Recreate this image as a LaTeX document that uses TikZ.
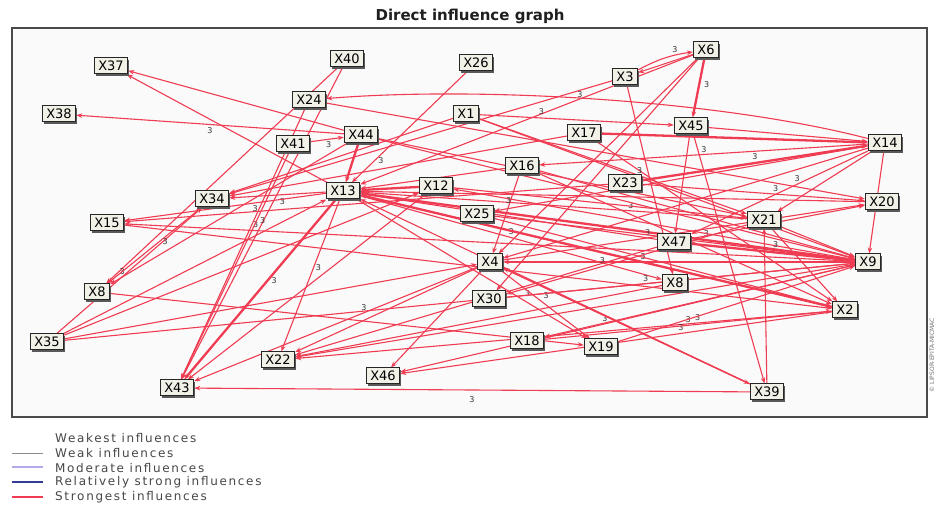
\documentclass[tikz,border=0pt]{standalone}
\usepackage{fontspec}
\usetikzlibrary{arrows.meta,shadows}
\newfontfamily\dvs{DejaVu Sans}
\newfontfamily\legfont{DejaVu Sans}[LetterSpace=14]
\definecolor{edgered}{HTML}{F03C52}
\definecolor{boxfill}{HTML}{F1F1E8}
\definecolor{framec}{HTML}{4A4A4A}
\definecolor{modc}{HTML}{B4AAEB}
\definecolor{strc}{HTML}{323C96}
\pgfdeclarelayer{back}
\pgfdeclarelayer{edges}
\pgfsetlayers{back,edges,main}
\begin{document}
\begin{tikzpicture}[x=1pt,y=-1pt,
  vn/.style={draw=black!85, line width=1pt, fill=boxfill, font=\dvs\fontsize{13}{13}\selectfont,
    inner xsep=4pt, inner ysep=2pt, minimum height=16pt,
    drop shadow={shadow xshift=1.6pt, shadow yshift=-1.6pt, fill=black!65, opacity=1}},
  ed/.style={draw=edgered, line width=1.1pt, -{Stealth[length=6pt,width=4.5pt]}},
  thk/.style={line width=2.3pt},
  lbl/.style={font=\dvs\fontsize{8}{8}\selectfont, text=black!80, inner sep=1pt},
  legtext/.style={font=\legfont\fontsize{12}{12}\selectfont, text=black!72, anchor=west, inner sep=0pt}]
\useasboundingbox (0,0) rectangle (937,510);
\begin{pgfonlayer}{back}
\fill[white] (0,0) rectangle (937,510);
\draw[framec, line width=1.6pt, fill=black!2] (12,28) rectangle (927,417);
\end{pgfonlayer}
\node[font=\dvs\bfseries\fontsize{15}{15}\selectfont, text=black!88] (title) at (470,16) {Direct influence graph};
% nodes
\node[vn] (X37) at (111,66) {X37};
\node[vn] (X40) at (347,59) {X40};
\node[vn] (X26) at (476,63) {X26};
\node[vn] (X6) at (706,50) {X6};
\node[vn] (X3) at (625,77) {X3};
\node[vn] (X24) at (309,100) {X24};
\node[vn] (X38) at (59,114) {X38};
\node[vn] (X1) at (466,114) {X1};
\node[vn] (X44) at (361,135) {X44};
\node[vn] (X41) at (293,144) {X41};
\node[vn] (X17) at (584,133) {X17};
\node[vn] (X45) at (691,126) {X45};
\node[vn] (X14) at (885,143) {X14};
\node[vn] (X16) at (522,166) {X16};
\node[vn] (X12) at (436,186) {X12};
\node[vn] (X13) at (343,191) {X13};
\node[vn] (X34) at (212,199) {X34};
\node[vn] (X23) at (625,183) {X23};
\node[vn] (X25) at (477,214) {X25};
\node[vn] (X20) at (882,202) {X20};
\node[vn] (X15) at (107,223) {X15};
\node[vn] (X21) at (764,220) {X21};
\node[vn] (X47) at (674,242) {X47};
\node[vn] (X9) at (868,262) {X9};
\node[vn] (X4) at (490,262) {X4};
\node[vn] (X8c) at (675,283) {X8};
\node[vn] (X30) at (489,299) {X30};
\node[vn] (X2) at (845,310) {X2};
\node[vn] (X8L) at (97,292) {X8};
\node[vn] (X35) at (47,342) {X35};
\node[vn] (X18) at (527,341) {X18};
\node[vn] (X19) at (601,347) {X19};
\node[vn] (X22) at (278,360) {X22};
\node[vn] (X46) at (383,376) {X46};
\node[vn] (X43) at (177,388) {X43};
\node[vn] (X39) at (767,392) {X39};
% edges
\begin{pgfonlayer}{edges}
\draw[ed] (X14) .. controls (720,100) and (480,86) .. (X24);
\draw[ed] (X24) -- (X20);
\draw[ed] (X40) -- (X8L);
\draw[ed] (X40) -- (X43);
\draw[ed] (X44) -- (X37);
\draw[ed] (X13) -- (X37);
\draw[ed] (X44) -- node[lbl,pos=0.5,below=2pt]{3} (X38);
\draw[ed] (X26) -- node[lbl,pos=0.8,right=2pt]{3} (X13);
\draw[ed] (X6) -- (X3);
\draw[ed] (X3) to[bend left=10] node[lbl,pos=0.7,above=1pt]{3} (X6);
\draw[ed,thk] (X6) -- node[lbl,pos=0.45,right=3pt]{3} (X45);
\draw[ed] (X6) -- (X13);
\draw[ed] (X6) -- (X4);
\draw[ed] (X6) -- (X30);
\draw[ed] (X3) -- node[lbl,pos=0.07,below left=1pt]{3} (X34);
\draw[ed] (X3) -- (X8c);
\draw[ed] (X45) -- (X14);
\draw[ed] (X45) -- node[lbl,pos=0.06,right=2pt]{3} (X39);
\draw[ed] (X45) -- (X47);
\draw[ed] (X1) -- node[lbl,pos=0.32,above=2pt]{3} (X45);
\draw[ed] (X1) -- (X9);
\draw[ed] (X1) -- (X34);
\draw[ed,thk] (X17) -- (X14);
\draw[ed,thk] (X23) -- node[lbl,pos=0.5,above=1pt]{3} (X14);
\draw[ed] (X14) -- (X25);
\draw[ed] (X14) -- node[lbl,pos=0.4,above=1pt]{3} (X47);
\draw[ed] (X14) -- (X21);
\draw[ed] (X14) -- (X4);
\draw[ed] (X14) -- (X16);
\draw[ed] (X14) -- (X9);
\draw[ed] (X16) -- (X13);
\draw[ed] (X16) -- (X9);
\draw[ed] (X16) -- (X2);
\draw[ed,thk] (X12) -- (X13);
\draw[ed,thk] (X44) -- (X13);
\draw[ed] (X41) -- node[lbl,pos=0.55,below=1pt]{3} (X44);
\draw[ed] (X13) -- node[lbl,pos=0.45,below=2pt]{3} (X34);
\draw[ed] (X13) -- node[lbl,pos=0.35,below=1pt]{3} (X15);
\draw[ed,thk] (X13) -- node[lbl,pos=0.45,right=2pt]{3} (X43);
\draw[ed] (X13) -- node[lbl,pos=0.45,right=1pt]{3} (X22);
\draw[ed,thk] (X9) -- node[lbl,pos=0.3,above=1pt]{3} (X13);
\draw[ed] (X13) -- node[lbl,pos=0.6,above=1pt]{3} (X2);
\draw[ed] (X13) -- node[lbl,pos=0.72,above right=1pt]{3} (X19);
\draw[ed] (X21) -- node[lbl,pos=0.3,above=1pt]{3} (X13);
\draw[ed] (X47) -- (X13);
\draw[ed] (X13) -- node[lbl,pos=0.5,above=1pt]{3} (X8c);
\draw[ed] (X9) -- node[lbl,pos=0.82,above=1pt]{3} (X15);
\draw[ed] (X9) -- node[lbl,pos=0.3,above=1pt]{3} (X22);
\draw[ed] (X9) -- node[lbl,pos=0.55,above=1pt]{3} (X46);
\draw[ed] (X9) -- (X4);
\draw[ed] (X9) -- (X12);
\draw[ed] (X9) -- (X18);
\draw[ed] (X2) -- node[lbl,pos=0.25,above=1pt]{3} (X22);
\draw[ed] (X2) -- node[lbl,pos=0.35,above=1pt]{3} (X46);
\draw[ed,thk] (X2) -- (X13);
\draw[ed] (X4) -- node[lbl,pos=0.4,above=1pt]{3} (X43);
\draw[ed] (X4) -- (X22);
\draw[ed] (X4) -- (X46);
\draw[ed] (X4) -- node[lbl,pos=0.45,above right=1pt]{3} (X19);
\draw[ed] (X4) -- (X39);
\draw[ed] (X4) -- node[lbl,pos=0.4,above=1pt]{3} (X20);
\draw[ed] (X35) -- node[lbl,pos=0.45,above=1pt]{3} (X34);
\draw[ed] (X35) -- (X13);
\draw[ed] (X35) -- (X12);
\draw[ed] (X35) -- (X4);
\draw[ed] (X35) -- (X9);
\draw[ed] (X8L) -- (X19);
\draw[ed] (X15) -- (X2);
\draw[ed] (X39) -- node[lbl,pos=0.5,below=5pt]{3} (X43);
\draw[ed] (X39) -- (X13);
\draw[ed] (X39) -- (X21);
\draw[ed] (X39) -- (X4);
\draw[ed] (X21) -- (X9);
\draw[ed] (X21) -- node[lbl,pos=0.6,above=1pt]{3} (X30);
\draw[ed] (X21) -- (X2);
\draw[ed] (X23) -- node[lbl,pos=0.6,above=1pt]{3} (X20);
\draw[ed] (X47) -- (X20);
\draw[ed,thk] (X47) -- (X9);
\draw[ed] (X47) -- (X22);
\draw[ed] (X17) -- (X34);
\draw[ed] (X17) -- (X2);
\draw[ed] (X25) -- node[lbl,pos=0.78,above=1pt]{3} (X9);
\draw[ed] (X25) -- (X2);
\draw[ed] (X30) -- node[lbl,pos=0.4,above=1pt]{3} (X9);
\draw[ed] (X18) -- node[lbl,pos=0.5,above=1pt]{3} (X2);
\draw[ed] (X19) -- (X9);
\draw[ed] (X44) -- (X8L);
\draw[ed] (X41) -- node[lbl,pos=0.3,right=2pt]{3} (X43);
\draw[ed] (X34) -- node[lbl,pos=0.45,right=2pt]{3} (X8L);
\draw[ed] (X12) -- (X43);
\draw[ed] (X44) -- (X9);
\draw[ed] (X44) -- node[lbl,pos=0.35,above=1pt]{3} (X21);
\draw[ed] (X12) -- (X21);
\draw[ed] (X16) -- node[lbl,pos=0.4,above=1pt]{3} (X4);
\draw[ed] (X23) -- (X15);
\draw[ed] (X8c) -- (X22);
\draw[ed] (X20) -- (X13);
\draw[ed] (X1) -- node[lbl,pos=0.6,above=1pt]{3} (X21);
\draw[ed] (X24) -- (X43);
\end{pgfonlayer}
% right-side credit
\node[rotate=90, font=\dvs\fontsize{6}{6}\selectfont, text=black!55] (credit) at (932,355) {\textcopyright{} LIPSOR-EPITA-MICMAC};
% legend
\coordinate (l2a) at (12,453); \coordinate (l2b) at (43,453);
\coordinate (l3a) at (12,467); \coordinate (l3b) at (43,467);
\coordinate (l4a) at (12,482); \coordinate (l4b) at (43,482);
\coordinate (l5a) at (12,497); \coordinate (l5b) at (43,497);
\draw[black!45, line width=1pt] (l2a) -- (l2b);
\draw[modc, line width=1.6pt] (l3a) -- (l3b);
\draw[strc, line width=1.6pt] (l4a) -- (l4b);
\draw[edgered, line width=2pt] (l5a) -- (l5b);
\node[legtext] (lg1) at (55,438) {Weakest influences};
\node[legtext] (lg2) at (55,453) {Weak influences};
\node[legtext] (lg3) at (55,468) {Moderate influences};
\node[legtext] (lg4) at (55,482) {Relatively strong influences};
\node[legtext] (lg5) at (55,497) {Strongest influences};
\end{tikzpicture}
\end{document}
